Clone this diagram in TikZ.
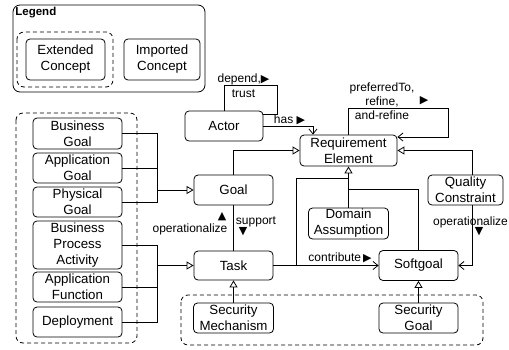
\documentclass[tikz,border=0pt]{standalone}
\usepackage{fontspec}
\setmainfont{Liberation Sans}
\newfontfamily\symfont{DejaVu Sans}
\usetikzlibrary{arrows.meta}
\newcommand{\rtri}{{\symfont\fontsize{11}{11}\selectfont ▶}}
\newcommand{\utri}{{\symfont\fontsize{11}{11}\selectfont ▲}}
\newcommand{\dtri}{{\symfont\fontsize{11}{11}\selectfont ▼}}

\begin{document}
\begin{tikzpicture}[x=1pt,y=-1pt,line width=0.8pt,
    concept/.style={draw,rounded corners=4pt,align=center,inner sep=0pt,minimum width=79pt,minimum height=30pt,font=\fontsize{13.3}{16}\selectfont},
    leftconcept/.style={concept,minimum width=89pt},
    lbl/.style={align=center,inner sep=0pt,font=\fontsize{12}{14.5}\selectfont},
    grp/.style={draw,dash pattern=on 4pt off 3pt,rounded corners=7pt},
    gen/.style={-{Triangle[open,length=7pt,width=8pt]}},
    assoc/.style={-{Straight Barb[length=5pt,width=8pt]}}]
            \useasboundingbox (0,0) rectangle (509,349);
            \draw[rounded corners=7pt] (13,5) rectangle (205,92);
            \node[anchor=west,inner sep=0pt,font=\fontsize{11.5}{13}\selectfont\bfseries] (legend) at (15,13) {Legend};
            \draw[grp] (17,32) rectangle (113,87);
            \node[concept,minimum width=79pt,minimum height=41pt] (extended) at (65.5,59.5) {Extended\\Concept};
            \node[concept,minimum width=76pt,minimum height=41pt] (imported) at (162,59.5) {Imported\\Concept};

            \draw[grp] (16,113) rectangle (137,343);
            \draw[grp] (181,295) rectangle (483,345);

            \node[leftconcept,minimum height=31pt] (bizgoal) at (77.5,133.5) {Business\\Goal};
            \node[leftconcept] (appgoal) at (77.5,168) {Application\\Goal};
            \node[leftconcept] (physgoal) at (77.5,202) {Physical\\Goal};
            \node[leftconcept,minimum height=48pt] (bpa) at (77.5,245) {Business\\Process\\Activity};
            \node[leftconcept] (appfunc) at (77.5,287) {Application\\Function};
            \node[leftconcept] (deploy) at (77.5,322) {Deployment};

            \node[concept,minimum width=78pt] (actor) at (224,126) {Actor};
            \node[concept,minimum width=97pt,minimum height=31pt] (reqelem) at (348.5,150.5) {Requirement\\Element};
            \node[concept] (goal) at (233.5,190) {Goal};
            \node[concept,minimum height=29pt] (task) at (233.5,265.5) {Task};
            \node[concept] (softgoal) at (418.5,265.5) {Softgoal};
            \node[concept,minimum width=80pt,minimum height=31pt] (domassum) at (348.5,223.5) {Domain\\Assumption};
            \node[concept,minimum width=75pt] (qualcon) at (465.5,190) {Quality\\Constraint};
            \node[concept,minimum width=80pt] (secmech) at (233.5,318) {Security\\Mechanism};
            \node[concept] (secgoal) at (418.5,318) {Security\\Goal};

            \coordinate (gbus) at (157,190);
            \coordinate (tbus) at (157,265.5);
            \draw (bizgoal.east) -| (gbus);
            \draw (appgoal.east) -| (gbus);
            \draw (physgoal.east) -| (gbus);
            \draw[gen] (gbus) -- (goal.west);
            \draw (bpa.east) -| (tbus);
            \draw (appfunc.east) -| (tbus);
            \draw (deploy.east) -| (tbus);
            \draw[gen] (tbus) -- (task.west);

            \coordinate (actloop) at (277,85);
            \coordinate (reqloop) at (448,108);
            \coordinate (sgbend) at (348.5,189);
            \coordinate (tkbend) at (296,178);
            \draw (actor.north) |- (actloop) |- ([yshift=12pt]actor.east);
            \draw[assoc] (actor.east) -| ([xshift=-35.5pt]reqelem.north);
            \draw[assoc] (reqelem.north) |- (reqloop) |- ([yshift=13.5pt]reqelem.east);
            \draw[gen] (goal.north) |- (reqelem.west);
            \draw[gen] ([xshift=6.5pt]qualcon.north) |- (reqelem.east);
            \draw[assoc] ([xshift=6.5pt]qualcon.south) |- (softgoal.east);
            \draw[gen] (domassum.north) -- (reqelem.south);
            \draw (softgoal.north) |- (sgbend);
            \draw (task.east) -| (tkbend) -- (tkbend -| reqelem.south);
            \draw[assoc] (task.east) -- (softgoal.west);
            \draw (goal.south) -- (task.north);
            \draw[gen] (secmech.north) -- (task.south);
            \draw[gen] (secgoal.north) -- (softgoal.south);

            \node[lbl] (dependlbl) at (243.5,85.5) {depend,\rtri\\trust};
            \node[lbl] (haslbl) at (289.5,120) {has~\rtri};
            \node[lbl,font=\fontsize{12}{14}\selectfont] (refinelbl) at (382,101.5) {preferredTo,\\refine,\\and-refine};
            \node[lbl] (refinetri) at (424,101) {\rtri};
            \node[lbl] (opgoallbl) at (190,229) {operationalize};
            \node[lbl] (opgoaltri) at (222,217) {\utri};
            \node[lbl] (supportlbl) at (256,222) {support};
            \node[lbl] (supporttri) at (243,232) {\dtri};
            \node[lbl] (contriblbl) at (340,258) {contribute\,\rtri};
            \node[lbl] (opqclbl) at (470.5,222) {operationalize};
            \node[lbl] (opqctri) at (479,232) {\dtri};
        \end{tikzpicture}
\end{document}
